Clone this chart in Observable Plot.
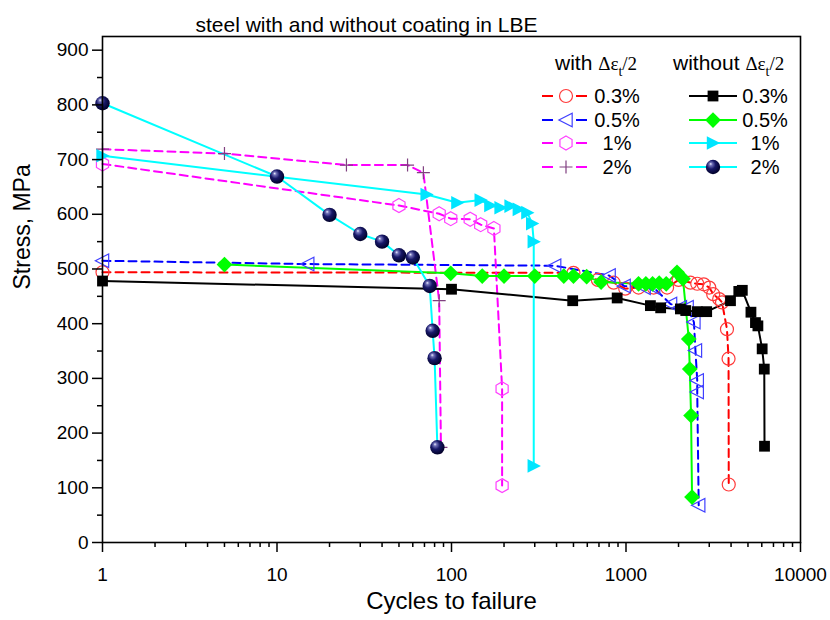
<!DOCTYPE html>
<html><head><meta charset="utf-8">
<script src="https://cdn.jsdelivr.net/npm/d3@7"></script>
<script src="https://cdn.jsdelivr.net/npm/@observablehq/plot@0.6"></script>
<style>
body{margin:0;background:#fff;}
#chart{width:830px;height:620px;}
</style>
</head><body><div id="chart"></div>
<script>
// ---- data ----
const title = "steel with and without coating in LBE";
const xLabel = "Cycles to failure";
const yLabel = "Stress, MPa";
const xMajor = [1, 10, 100, 1000, 10000];
const xMinor = [2,3,4,5,6,7,8,9,20,30,40,50,60,70,80,90,200,300,400,500,600,700,800,900,2000,3000,4000,5000,6000,7000,8000,9000];
const yMajor = [0,100,200,300,400,500,600,700,800,900];
const yMinor = [50,150,250,350,450,550,650,750,850];
const strainLabels = ["0.3%", "0.5%", "1%", "2%"];

// with coating
const with03N = [1, 500, 690, 850, 990, 1180, 1440, 1720, 2000, 2340, 2560, 2790, 3000, 3160, 3420, 3550, 3790, 3870, 3880];
const with03S = [494, 493, 480, 475, 464, 466, 466, 466, 480, 475, 473, 472, 466, 454, 445, 439, 390, 336, 106];
const with05N = [1, 15, 390, 800, 975, 1270, 1440, 1800, 2050, 2240, 2450, 2500, 2560, 2560, 2610];
const with05S = [515, 509, 506, 488, 469, 466, 466, 436, 430, 430, 403, 351, 296, 275, 68];
const with1N = [1, 50, 85, 99, 128, 147, 175, 195, 195];
const with1S = [692, 616, 601, 592, 591, 581, 574, 281, 104];
const with2N = [1, 5, 25, 56, 69, 85, 87];
const with2S = [719, 711, 690, 690, 676, 442, 174];
// without coating
const wo03N = [1, 100, 495, 890, 1380, 1580, 2050, 2200, 2560, 2900, 3970, 4430, 4640, 5200, 5520, 5700, 6030, 6200, 6220];
const wo03S = [478, 463, 442, 447, 433, 429, 427, 424, 422, 422, 442, 459, 461, 421, 402, 396, 354, 317, 176];
const wo05N = [5, 99, 150, 200, 300, 440, 500, 595, 720, 1180, 1300, 1420, 1550, 1700, 1960, 2120, 2290, 2320, 2360, 2390];
const wo05S = [508, 492, 487, 487, 487, 487, 487, 486, 476, 473, 473, 473, 474, 473, 494, 482, 372, 317, 232, 83];
const wo1N = [1, 72, 108, 147, 167, 191, 218, 243, 272, 290, 296, 296];
const wo1S = [707, 636, 621, 626, 616, 612, 615, 609, 603, 583, 550, 140];
const wo2N = [1, 10, 20, 30, 40, 50, 60, 75, 78, 80, 83];
const wo2S = [803, 669, 599, 564, 550, 525, 521, 469, 387, 337, 174];

// ---- custom symbols ----
const rad = size => Math.sqrt(size / Math.PI);
const symTriLeft = {draw(c, s){ const r = rad(s); c.moveTo(-r*1.1, 0); c.lineTo(r*0.95, -r*1.05); c.lineTo(r*0.95, r*1.05); c.closePath(); }};
const symTriRight = {draw(c, s){ const r = rad(s); c.moveTo(r*1.1, 0); c.lineTo(-r*0.95, -r*1.05); c.lineTo(-r*0.95, r*1.05); c.closePath(); }};
const symHex = {draw(c, s){ const r = rad(s); for (let i = 0; i < 6; i++){ const a = Math.PI/3*i - Math.PI/2; const px = r*Math.cos(a), py = r*Math.sin(a); if (i) c.lineTo(px, py); else c.moveTo(px, py);} c.closePath(); }};
const symDiamond = {draw(c, s){ const k = rad(s)*1.25; c.moveTo(0,-k); c.lineTo(k,0); c.lineTo(0,k); c.lineTo(-k,0); c.closePath(); }};
const symSquare = {draw(c, s){ const h = rad(s)*0.9; c.moveTo(-h,-h); c.lineTo(h,-h); c.lineTo(h,h); c.lineTo(-h,h); c.closePath(); }};
const symPlus = {draw(c, s){ const r = rad(s); c.moveTo(-r,0); c.lineTo(r,0); c.moveTo(0,-r); c.lineTo(0,r); }};
const symCircle = {draw(c, s){ const r = rad(s); c.moveTo(r,0); c.arc(0,0,r,0,2*Math.PI); }};

const pts = (n, s) => n.map((v, i) => ({n: v, s: s[i]}));

const series = [
  {data: pts(with03N, with03S), line: "#ff0000", dash: "8,5", sym: symCircle, fill: "none", mstroke: "#ff3a3a", r: 6.5},
  {data: pts(with05N, with05S), line: "#0000ff", dash: "8,5", sym: symTriLeft, fill: "none", mstroke: "#4040ff", r: 6.5},
  {data: pts(with1N, with1S), line: "#ff00ff", dash: "8,5", sym: symHex, fill: "none", mstroke: "#ff40ff", r: 7},
  {data: pts(with2N, with2S), line: "#ff00ff", dash: "8,5", sym: symPlus, fill: "none", mstroke: "#804080", r: 6.5},
  {data: pts(wo03N, wo03S), line: "#000000", dash: null, sym: symSquare, fill: "#000000", mstroke: "none", r: 6},
  {data: pts(wo05N, wo05S), line: "#00ff00", dash: null, sym: symDiamond, fill: "#00ff00", mstroke: "none", r: 6.3},
  {data: pts(wo1N, wo1S), line: "#00ffff", dash: null, sym: symTriRight, fill: "#00e5ff", mstroke: "none", r: 6.5},
  {data: pts(wo2N, wo2S), line: "#00ffff", dash: null, sym: symCircle, fill: "url(#sph)", mstroke: "none", r: 7.2}
];

const lineMarks = series.map(d => Plot.line(d.data, {x: "n", y: "s", stroke: d.line, strokeWidth: 2, strokeDasharray: d.dash || undefined}));
const dotMarks = series.map(d => Plot.dot(d.data, {x: "n", y: "s", symbol: d.sym, r: d.r, fill: d.fill, stroke: d.mstroke, strokeWidth: 1.2}));

const plot = Plot.plot({
  width: 830, height: 620,
  marginLeft: 102, marginRight: 30, marginTop: 36, marginBottom: 78,
  style: {fontFamily: "'Liberation Sans', Arial, sans-serif", color: "#000", background: "#fff"},
  x: {type: "log", domain: [1, 10000]},
  y: {domain: [0, 925]},
  marks: [
    ...lineMarks,
    ...dotMarks,
    Plot.frame({stroke: "#000", strokeWidth: 1.6}),
    Plot.axisX({ticks: xMinor, tickSize: 5, tickFormat: () => "", label: null, strokeWidth: 1.5}),
    Plot.axisX({ticks: xMajor, tickSize: 10, tickPadding: 15, tickFormat: d => String(d), fontSize: 19, label: null, strokeWidth: 1.5}),
    Plot.axisY({ticks: yMinor, tickSize: 5, tickFormat: () => "", label: null, strokeWidth: 1.5}),
    Plot.axisY({ticks: yMajor, tickSize: 10, tickPadding: 4, tickFormat: d => String(d), fontSize: 19, label: null, strokeWidth: 1.5}),
    Plot.text([yLabel], {text: d => d, frameAnchor: "left", dx: -80, rotate: -90, fontSize: 23}),
    Plot.text([xLabel], {text: d => d, frameAnchor: "bottom", dy: 66, fontSize: 24}),
    Plot.text([title], {text: d => d, frameAnchor: "top", dy: -19, dx: -85, fontSize: 21})
  ]
});

// sphere gradient
const svg = d3.select(plot);
const grad = svg.insert("defs", ":first-child").append("radialGradient")
  .attr("id", "sph").attr("cx", 0.42).attr("cy", 0.4).attr("r", 0.6).attr("fx", 0.33).attr("fy", 0.28);
grad.append("stop").attr("offset", "0").attr("stop-color", "#f0f0ff");
grad.append("stop").attr("offset", "0.18").attr("stop-color", "#7070b8");
grad.append("stop").attr("offset", "0.5").attr("stop-color", "#181868");
grad.append("stop").attr("offset", "1").attr("stop-color", "#000028");

// legend
const lg = svg.append("g").attr("font-family", "'Liberation Sans', Arial, sans-serif").attr("fill", "#000");
const rowsY = [96, 120, 143, 167];
function header(x, word) {
  const t = lg.append("text").attr("x", x).attr("y", 70).attr("font-size", 21).attr("text-anchor", "start");
  t.append("tspan").text(word + " ");
  t.append("tspan").attr("font-family", "'Liberation Serif', 'Times New Roman', serif").attr("font-size", 19).text("\u0394\u03b5");
  t.append("tspan").attr("font-family", "'Liberation Serif', serif").attr("font-size", 14).attr("dy", 6).text("t");
  t.append("tspan").attr("font-family", "'Liberation Serif', serif").attr("font-size", 19).attr("dy", -6).text("/2");
}
header(555, "with");
header(673, "without");
const symPath = (type, r) => d3.symbol().type(type).size(r * r * Math.PI)();
series.forEach((d, i) => {
  const left = i < 4;
  const y = rowsY[i % 4];
  const cx = left ? 566 : 713;
  if (left) {
    lg.append("line").attr("x1", 542).attr("x2", 553).attr("y1", y).attr("y2", y).attr("stroke", d.line).attr("stroke-width", 2);
    lg.append("line").attr("x1", 576).attr("x2", 587).attr("y1", y).attr("y2", y).attr("stroke", d.line).attr("stroke-width", 2);
  } else {
    lg.append("line").attr("x1", 689).attr("x2", 737).attr("y1", y).attr("y2", y).attr("stroke", d.line).attr("stroke-width", 2);
  }
  lg.append("path").attr("d", symPath(d.sym, d.r)).attr("transform", `translate(${cx},${y})`)
    .attr("fill", d.fill).attr("stroke", d.mstroke).attr("stroke-width", 1.2);
  lg.append("text").attr("x", left ? 617 : 765).attr("y", y).attr("dy", "0.35em")
    .attr("text-anchor", "middle").attr("font-size", 20).text(strainLabels[i % 4]);
});

document.getElementById("chart").appendChild(plot);
</script></body></html>
